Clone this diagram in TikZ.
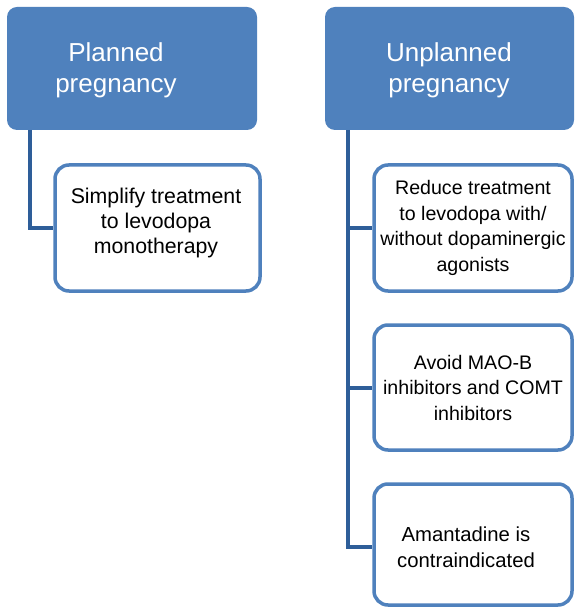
\documentclass[tikz,border=0pt]{standalone}
\usepackage{fontspec}
\setmainfont{Liberation Sans}
\definecolor{hdrblue}{HTML}{4F81BD}
\definecolor{connblue}{HTML}{2E5E99}
\begin{document}
\begin{tikzpicture}[x=1pt,y=1pt,
  header/.style={rectangle, rounded corners=10pt, fill=hdrblue, draw=none, anchor=center},
  headtext/.style={text=white, align=center, font=\fontsize{26}{31}\selectfont, inner sep=0pt},
  childbox/.style={rectangle, rounded corners=14pt, draw=hdrblue, line width=3.5pt, fill=white, align=center, inner sep=0pt, anchor=center},
  lefttext/.style={font=\fontsize{21.3}{25}\selectfont, align=center, inner sep=0pt},
  righttext/.style={font=\fontsize{19.6}{25.5}\selectfont},
  conn/.style={draw=connblue, line width=4pt}
]
\useasboundingbox (0,0) rectangle (574,-609);
% headers
\node[header, minimum width=250pt, minimum height=123pt] (h1) at (132,-68.5) {};
\node[headtext] (h1t) at (116,-70.5) {Planned\\pregnancy};
\node[header, minimum width=249pt, minimum height=123pt] (h2) at (449.5,-68.5) {};
\node[headtext] (h2t) at (449,-70.5) {Unplanned\\pregnancy};
% children
\node[childbox, minimum width=205pt, minimum height=126pt] (c1) at (157.5,-228) {};
\node[lefttext] (c1t) at (156,-223) {Simplify treatment\\to levodopa\\monotherapy};
\node[childbox, righttext, minimum width=198pt, minimum height=126pt] (r1) at (473,-228) {Reduce treatment\\to levodopa with/\\without dopaminergic\\agonists};
\node[childbox, righttext, minimum width=198pt, minimum height=125pt] (r2) at (473,-387.5) {Avoid MAO-B\\inhibitors and COMT\\inhibitors};
\node[childbox, minimum width=198pt, minimum height=121pt] (r3) at (473,-544.5) {};
\node[righttext, font=\fontsize{20.3}{26.5}\selectfont, align=center, inner sep=0pt] (r3t) at (466,-547) {Amantadine is\\contraindicated};
% connectors
\coordinate (t1) at (30,-130);
\coordinate (t2) at (348,-130);
\draw[conn] (t1) |- (c1.west);
\draw[conn] (t2) |- ([yshift=-2.5pt]r3.west);
\draw[conn] (t2 |- r1.west) -- (r1.west);
\draw[conn] (t2 |- r2.west) -- (r2.west);
\end{tikzpicture}
\end{document}
